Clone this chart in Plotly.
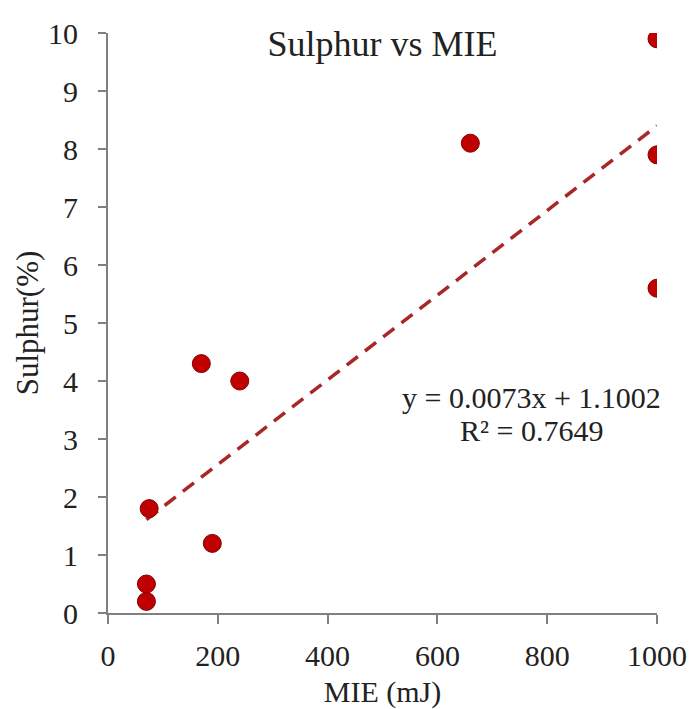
import plotly.graph_objects as go

mie = [70, 70, 75, 190, 170, 240, 660, 1000, 1000, 1000]
sulphur = [0.2, 0.5, 1.8, 1.2, 4.3, 4.0, 8.1, 9.9, 7.9, 5.6]
slope = 0.0073
intercept = 1.1002
r2 = 0.7649
x_ticks = [0, 200, 400, 600, 800, 1000]
y_ticks = [0, 1, 2, 3, 4, 5, 6, 7, 8, 9, 10]

font_family = "Liberation Serif, Times New Roman, serif"
text_color = "#222222"
x_fit = [min(mie), max(mie)]
y_fit = [slope * v + intercept for v in x_fit]

fig = go.Figure()
fig.add_trace(go.Scatter(
    x=x_fit, y=y_fit, mode="lines",
    line=dict(color="#A82828", width=3.5, dash="14px,9px"),
    showlegend=False, hoverinfo="skip"))
fig.add_trace(go.Scatter(
    x=mie, y=sulphur, mode="markers",
    marker=dict(color="#C00000", size=18, line=dict(color="#800000", width=1)),
    showlegend=False))

fig.add_annotation(
    x=772, y=3.72, xref="x", yref="y", xanchor="center", yanchor="middle",
    text=f"y = {slope}x + {intercept}", showarrow=False,
    font=dict(family=font_family, size=30, color=text_color))
fig.add_annotation(
    x=772, y=3.14, xref="x", yref="y", xanchor="center", yanchor="middle",
    text=f"R² = {r2}", showarrow=False,
    font=dict(family=font_family, size=30, color=text_color))

fig.update_layout(
    width=695, height=709,
    margin=dict(l=108, r=38, t=33, b=96),
    paper_bgcolor="white", plot_bgcolor="white",
    font=dict(family=font_family, size=30, color=text_color),
    title=dict(text="Sulphur vs MIE", x=0.5, xanchor="center", xref="paper",
               y=1 - 43 / 709, yref="container", yanchor="middle",
               font=dict(family=font_family, size=36, color=text_color)),
    xaxis=dict(range=[0, 1000], tickvals=x_ticks, showgrid=False, zeroline=False,
               showline=True, linecolor="#808080", linewidth=2,
               ticks="outside", ticklen=9, tickwidth=1.5, tickcolor="#808080",
               ticklabelstandoff=6, automargin=False,
               tickfont=dict(family=font_family, size=30, color=text_color),
               title=dict(text="MIE (mJ)", standoff=10,
                          font=dict(family=font_family, size=30, color=text_color))),
    yaxis=dict(range=[0, 10], tickvals=y_ticks, showgrid=False, zeroline=False,
               showline=True, linecolor="#808080", linewidth=2,
               ticks="outside", ticklen=8, tickwidth=1.5, tickcolor="#808080",
               ticklabelstandoff=14, automargin=False,
               tickfont=dict(family=font_family, size=30, color=text_color),
               title=dict(text="Sulphur(%)", standoff=0,
                          font=dict(family=font_family, size=31, color=text_color))),
)

fig.write_html("out.html")
